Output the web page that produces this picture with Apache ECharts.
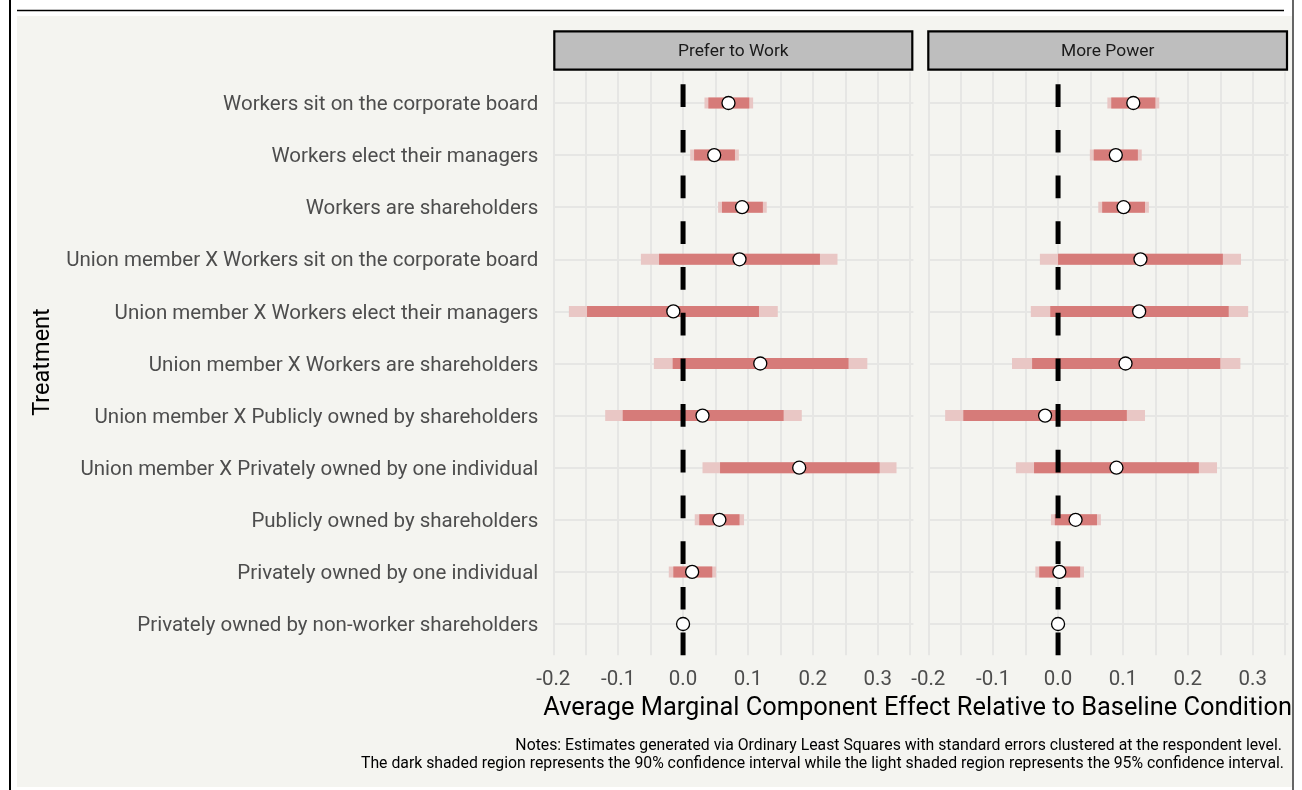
<!doctype html>
<html lang="en">
  <head>
    <meta charset="utf-8">
    <title>AMCE - Prefer to Work / More Power</title>
    <script src="https://cdn.jsdelivr.net/npm/echarts@6/dist/echarts.min.js"></script>
    <style>
      body { margin: 0; background: #fff; }
      #chart { width: 1302px; height: 790px; }
    </style>
  </head>
  <body>
    <div id="chart"></div>

  <script>
    // rows, top to bottom
    var categories = [
      'Workers sit on the corporate board',
      'Workers elect their managers',
      'Workers are shareholders',
      'Union member X Workers sit on the corporate board',
      'Union member X Workers elect their managers',
      'Union member X Workers are shareholders',
      'Union member X Publicly owned by shareholders',
      'Union member X Privately owned by one individual',
      'Publicly owned by shareholders',
      'Privately owned by one individual',
      'Privately owned by non-worker shareholders'
    ];
    var panels = ['Prefer to Work', 'More Power'];
    var tickLabels = ['-0.2', '-0.1', '0.0', '0.1', '0.2', '0.3'];

    // Prefer to Work
    var workEst  = [0.070, 0.048, 0.091, 0.087, -0.015, 0.119, 0.030, 0.179, 0.056, 0.014, 0];
    var workLo90 = [0.039, 0.017, 0.060, -0.037, -0.148, -0.016, -0.093, 0.057, 0.025, -0.015, 0];
    var workHi90 = [0.102, 0.080, 0.123, 0.211, 0.117, 0.255, 0.155, 0.303, 0.087, 0.045, 0];
    var workLo95 = [0.033, 0.011, 0.054, -0.065, -0.176, -0.045, -0.120, 0.030, 0.018, -0.022, 0];
    var workHi95 = [0.108, 0.086, 0.129, 0.238, 0.146, 0.284, 0.183, 0.329, 0.094, 0.051, 0];

    // More Power
    var powerEst  = [0.116, 0.089, 0.101, 0.127, 0.125, 0.104, -0.020, 0.090, 0.027, 0.002, 0];
    var powerLo90 = [0.082, 0.055, 0.068, 0.000, -0.012, -0.040, -0.146, -0.037, -0.005, -0.029, 0];
    var powerHi90 = [0.150, 0.123, 0.134, 0.254, 0.263, 0.250, 0.106, 0.217, 0.060, 0.034, 0];
    var powerLo95 = [0.076, 0.049, 0.062, -0.028, -0.042, -0.071, -0.174, -0.065, -0.011, -0.035, 0];
    var powerHi95 = [0.156, 0.129, 0.140, 0.282, 0.293, 0.281, 0.134, 0.245, 0.066, 0.040, 0];

    var FONT = 'Roboto, sans-serif';
    var BG = '#f4f4f0';
    var GRIDCOL = '#e6e6e4';
    var DARK = '#d67b79';
    var LIGHT = '#e9c7c5';

    var dom = document.getElementById('chart');
    var chart = echarts.init(dom, null, { renderer: 'canvas' });

    // panel geometry (px)
    var pxPerUnit = 648.8;
    var panelLeft = [553.3, 928.3];
    var panelTop = 71.7, panelBottom = 655.3;
    var rowTop = 103, rowBottom = 624;

    var grids = [], xAxes = [], yAxes = [], series = [];

    function ciData(lo, hi) {
      var out = [];
      for (var i = 0; i < lo.length; i++) {
        if (hi[i] - lo[i] > 0) out.push([i, lo[i], hi[i]]);
      }
      return out;
    }

    function barSeries(axisIdx, lo, hi, color, z) {
      return {
        type: 'custom', xAxisIndex: axisIdx, yAxisIndex: axisIdx, z: z, silent: true,
        data: ciData(lo, hi),
        encode: { x: [1, 2], y: 0 },
        renderItem: function (params, api) {
          var a = api.coord([api.value(1), api.value(0)]);
          var b = api.coord([api.value(2), api.value(0)]);
          return {
            type: 'rect',
            shape: { x: a[0], y: a[1] - 5.5, width: b[0] - a[0], height: 11 },
            style: { fill: color }
          };
        }
      };
    }

    var panelData = [
      [workEst, workLo90, workHi90, workLo95, workHi95],
      [powerEst, powerLo90, powerHi90, powerLo95, powerHi95]
    ];

    for (var p = 0; p < 2; p++) {
      var left = panelLeft[p];
      var a = p * 2, b = p * 2 + 1;
      // grid A: full panel height, vertical grid lines + tick labels + zero line
      grids.push({ left: left, top: panelTop, width: 0.55 * pxPerUnit, height: panelBottom - panelTop });
      // grid B: row centers, horizontal grid lines + category labels + marks
      grids.push({ left: left, top: rowTop, width: 0.555 * pxPerUnit, height: rowBottom - rowTop });

      xAxes.push({
        gridIndex: a, type: 'value', min: -0.2, max: 0.35, interval: 0.05,
        axisLine: { show: false }, axisTick: { show: false },
        splitLine: { show: true, lineStyle: { color: GRIDCOL, width: 2 } },
        axisLabel: {
          color: '#4d4d4d', fontSize: 20.5, fontFamily: FONT, margin: 14,
          showMinLabel: true, showMaxLabel: true,
          formatter: function (v) {
            var s = (Math.round(v * 10) / 10).toFixed(1);
            if (Math.abs(v * 10 - Math.round(v * 10)) > 1e-6) return '';
            return tickLabels.indexOf(s) >= 0 ? s : '';
          }
        }
      });
      yAxes.push({ gridIndex: a, type: 'value', min: 0, max: 1, show: false });

      xAxes.push({ gridIndex: b, type: 'value', min: -0.2, max: 0.355, show: false });
      yAxes.push({
        gridIndex: b, type: 'category', data: categories, inverse: true, boundaryGap: false,
        axisLine: { show: false }, axisTick: { show: false },
        splitLine: { show: true, lineStyle: { color: GRIDCOL, width: 2 } },
        axisLabel: { show: p === 0, color: '#4d4d4d', fontSize: 20.5, fontFamily: FONT, margin: 15,
          verticalAlign: 'top', lineHeight: 4 }
      });

      var d = panelData[p];
      series.push(barSeries(b, d[3], d[4], LIGHT, 2));
      series.push(barSeries(b, d[1], d[2], DARK, 3));
      series.push({
        type: 'line', xAxisIndex: a, yAxisIndex: a, z: 4, silent: true,
        data: [[0, 0], [0, 1]], symbol: 'none',
        lineStyle: { color: '#000', width: 5, type: [22.7, 23] }
      });
      series.push({
        type: 'scatter', xAxisIndex: b, yAxisIndex: b, z: 5, silent: true,
        data: d[0].map(function (v, i) { return [v, i]; }),
        symbolSize: 13,
        itemStyle: { color: '#fff', borderColor: '#000', borderWidth: 1.3, opacity: 1 }
      });
    }

    var graphics = [
      { type: 'rect', z: -100, shape: { x: 17, y: 16, width: 1275, height: 771 }, style: { fill: BG } },
      { type: 'line', shape: { x1: 10, y1: 0, x2: 10, y2: 790 }, style: { stroke: '#000', lineWidth: 2 } },
      { type: 'line', shape: { x1: 17, y1: 10.5, x2: 1284, y2: 10.5 }, style: { stroke: '#000', lineWidth: 1.5 } },
      { type: 'line', shape: { x1: 1293, y1: 0, x2: 1293, y2: 790 }, style: { stroke: '#333', lineWidth: 1.5 } },
      { type: 'text', x: 43, y: 362, rotation: Math.PI / 2,
        style: { text: 'Treatment', font: '23.5px ' + FONT, fill: '#000', textAlign: 'center', textVerticalAlign: 'middle' } },
      { type: 'text', x: 1292, y: 709,
        style: { text: 'Average Marginal Component Effect Relative to Baseline Condition', font: '25.4px ' + FONT,
          fill: '#000', textAlign: 'right', textVerticalAlign: 'middle' } },
      { type: 'text', x: 1282, y: 746,
        style: { text: 'Notes: Estimates generated via Ordinary Least Squares with standard errors clustered at the respondent level.',
          font: '15.8px ' + FONT, fill: '#000', textAlign: 'right', textVerticalAlign: 'middle' } },
      { type: 'text', x: 1284, y: 764,
        style: { text: 'The dark shaded region represents the 90% confidence interval while the light shaded region represents the 95% confidence interval.',
          font: '15.8px ' + FONT, fill: '#000', textAlign: 'right', textVerticalAlign: 'middle' } }
    ];
    var stripX = [[553.3, 913.3], [927.3, 1288]];
    for (var s = 0; s < 2; s++) {
      graphics.push({ type: 'rect', shape: { x: stripX[s][0] + 1, y: 31.3, width: stripX[s][1] - stripX[s][0] - 2, height: 38.4 },
        style: { fill: '#bebebe', stroke: '#000', lineWidth: 2.2 } });
      graphics.push({ type: 'text', x: (stripX[s][0] + stripX[s][1]) / 2, y: 52,
        style: { text: panels[s], font: '17.4px ' + FONT, fill: '#1a1a1a', textAlign: 'center', textVerticalAlign: 'middle' } });
    }

    var option = {
      backgroundColor: '#fff',
      animation: false,
      textStyle: { fontFamily: FONT },
      graphic: graphics,
      grid: grids,
      xAxis: xAxes,
      yAxis: yAxes,
      series: series
    };
    chart.setOption(option);
  </script>
  </body>
</html>
